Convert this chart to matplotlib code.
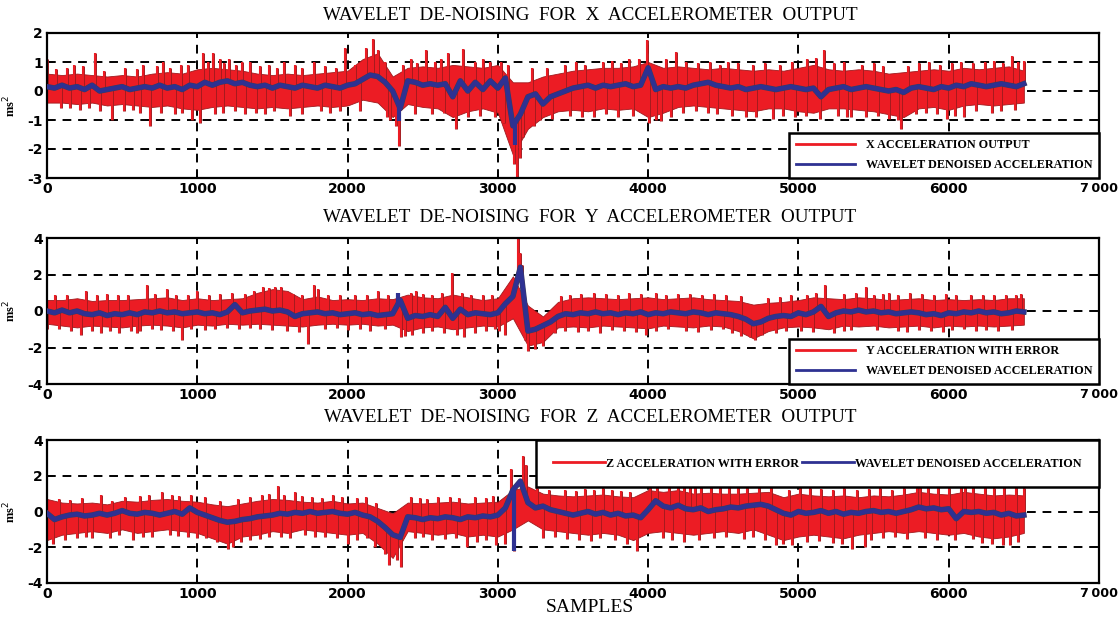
import numpy as np
import matplotlib
matplotlib.use("Agg")
import matplotlib.pyplot as plt
from matplotlib.lines import Line2D
import matplotlib.patheffects as pe

plt.rcParams['axes.unicode_minus'] = False

# ---------------- data ----------------
band_step = 100   # red band envelope sampled every 100 samples (0..6500)
blue_step = 50    # denoised signal sampled every 50 samples (0..6500)

titles = ["WAVELET  DE-NOISING  FOR  X  ACCELEROMETER  OUTPUT",
          "WAVELET  DE-NOISING  FOR  Y  ACCELEROMETER  OUTPUT",
          "WAVELET  DE-NOISING  FOR  Z  ACCELEROMETER  OUTPUT"]
red_labels = ["X ACCELERATION OUTPUT", "Y ACCELERATION WITH ERROR", "Z ACCELERATION WITH ERROR"]
blue_label = "WAVELET DENOISED ACCELERATION"
xtick_vals = [0, 1000, 2000, 3000, 4000, 5000, 6000, 7000]
xtick_labels = ["0", "1000", "2000", "3000", "4000", "5000", "6000", "7\u2009000"]

# ---- X accelerometer ----
x_hi = [0.6, 0.55, 0.6, 0.55, 0.5, 0.55, 0.5, 0.6, 0.65, 0.6,
        0.75, 0.8, 0.75, 0.7, 0.6, 0.55, 0.6, 0.55, 0.6, 0.65,
        0.7, 1.1, 1.3, 0.5, 0.8, 0.85, 0.8, 0.9, 0.85, 0.8,
        0.9, 0.3, 0.3, 0.5, 0.6, 0.7, 0.75, 0.8, 0.8, 0.85,
        1.0, 0.8, 0.85, 0.8, 0.75, 0.8, 0.75, 0.7, 0.75, 0.7,
        0.8, 0.9, 0.75, 0.7, 0.75, 0.7, 0.6, 0.65, 0.7, 0.75,
        0.7, 0.8, 0.75, 0.8, 0.85, 0.7]
x_lo = [-0.4, -0.4, -0.45, -0.4, -0.5, -0.45, -0.5, -0.55, -0.5, -0.6,
        -0.65, -0.55, -0.5, -0.55, -0.6, -0.55, -0.6, -0.55, -0.5, -0.55,
        -0.5, -0.3, -0.4, -0.9, -0.45, -0.55, -0.6, -0.9, -0.7, -0.6,
        -0.75, -2.2, -1.3, -0.9, -0.7, -0.65, -0.7, -0.6, -0.65, -0.6,
        -0.9, -0.75, -0.55, -0.5, -0.55, -0.6, -0.65, -0.7, -0.6, -0.6,
        -0.7, -0.75, -0.6, -0.6, -0.65, -0.7, -0.8, -0.9, -0.6, -0.55,
        -0.65, -0.5, -0.45, -0.5, -0.45, -0.4]
x_spikes = [(0, 1.1), (320, 1.3), (435, -1.0), (686, -1.2), (775, 1.0), (890, 0.9), (965, -1.0),
            (1020, -1.1), (1040, 1.3), (1105, 1.3), (1210, 1.1), (1350, 1.0), (1580, 1.0),
            (1775, 1.0), (1980, 1.5), (2120, 1.5), (2167, 1.8), (2200, 1.4), (2320, -1.2),
            (2340, -1.9), (2370, 0.9), (2525, 1.4), (2670, 1.3), (2720, -1.3), (2765, 1.45),
            (2950, 1.0), (3070, 0.9), (3110, -2.5), (3130, -3.0), (3150, -2.3), (3170, -1.6),
            (3280, -1.0), (3640, -0.9), (3870, 1.1), (3995, 1.75), (4005, -1.1), (4055, -1.0),
            (4085, -1.05), (4185, 1.35), (4530, 1.0), (4830, -0.95), (5120, 1.15), (5145, -0.95),
            (5170, 1.4), (5350, -0.9), (5660, -1.0), (5680, -1.3), (5990, -0.95), (6100, -0.9),
            (6240, 1.0), (6420, 1.2), (6500, 1.05),
            (60, 0.75), (130, 0.8), (180, 0.9), (240, 0.85), (380, 0.7), (520, 0.8), (600, 0.75),
            (640, 0.9), (730, 0.85), (820, 0.8), (940, 0.9), (1070, 1.0), (1150, 1.1), (1180, 0.95),
            (1260, 0.9), (1300, 1.0), (1420, 0.85), (1480, 0.9), (1530, 0.8), (1650, 0.9),
            (1700, 0.8), (1850, 0.85), (1920, 0.8), (90, -0.6), (150, -0.6), (220, -0.65),
            (280, -0.6), (350, -0.7), (510, -0.7), (570, -0.65), (620, -0.75), (760, -0.75),
            (850, -0.8), (900, -0.75), (1120, -0.8), (1170, -0.75), (1250, -0.7), (1320, -0.8),
            (1390, -0.75), (1450, -0.8), (1510, -0.7), (1620, -0.85), (1700, -0.8), (1820, -0.7),
            (1880, -0.75), (1950, -0.7), (2050, 0.9), (2250, 1.0), (2420, 1.1), (2460, 0.95),
            (2580, 1.0), (2620, 1.1), (2850, 1.0), (2900, 1.1), (3020, 1.0), (3230, 0.8),
            (3330, 0.8), (2080, -0.7), (2260, -0.9), (2280, -1.0), (2450, -0.8), (2560, -0.8),
            (2640, -0.75), (2800, -0.9), (2880, -0.85), (2980, -0.9), (3040, -1.1), (3240, -1.2),
            (3360, -0.95), (3450, 0.9), (3520, 1.0), (3580, 0.9), (3700, 1.0), (3760, 1.05),
            (3820, 0.95), (3940, 1.1), (4120, 1.1), (4250, 1.0), (4330, 0.95), (4410, 1.0),
            (4480, 0.9), (4600, 0.95), (4700, 0.9), (4780, 0.95), (4880, 0.9), (4960, 1.0),
            (5060, 1.1), (5240, 0.95), (5300, 1.0), (5420, 0.9), (5500, 0.95), (5560, 0.85),
            (5730, 0.85), (5800, 0.95), (5870, 1.0), (5940, 0.9), (6020, 0.95), (6080, 1.0),
            (6160, 0.95), (6300, 1.05), (6360, 0.95), (6460, 1.0), (3480, -0.85), (3560, -0.9),
            (3720, -0.8), (3800, -0.9), (3900, -0.85), (4150, -0.9), (4230, -0.75), (4320, -0.7),
            (4400, -0.75), (4460, -0.8), (4560, -0.85), (4650, -0.9), (4720, -0.9), (4900, -0.85),
            (4980, -0.9), (5050, -0.85), (5260, -0.85), (5320, -0.9), (5450, -0.9), (5530, -0.85),
            (5600, -0.95), (5780, -0.8), (5850, -0.75), (5920, -0.8), (6040, -0.85), (6180, -0.7),
            (6290, -0.75), (6350, -0.7), (6440, -0.65)]
x_blue = [0.15, 0.1, 0.2, 0.1, 0.15, 0.05, 0.2, 0.0, 0.05, 0.1,
          0.15, 0.05, 0.1, 0.15, 0.1, 0.2, 0.1, 0.15, 0.05, 0.2,
          0.15, 0.3, 0.2, 0.3, 0.35, 0.25, 0.3, 0.2, 0.15, 0.2,
          0.1, 0.2, 0.15, 0.1, 0.2, 0.15, 0.1, 0.2, 0.15, 0.1,
          0.2, 0.25, 0.4, 0.55, 0.5, 0.3, 0.0, -0.6, 0.35, 0.3,
          0.2, 0.25, 0.2, 0.25, -0.2, 0.35, 0.0, 0.3, 0.05, 0.35,
          0.1, 0.45, -1.2, -0.8, -0.2, -0.1, -0.45, -0.2, -0.1, 0.0,
          0.1, 0.15, 0.2, 0.1, 0.2, 0.15, 0.2, 0.25, 0.15, 0.2,
          0.8, 0.05, 0.15, 0.1, 0.15, 0.1, 0.2, 0.25, 0.3, 0.2,
          0.15, 0.1, 0.15, 0.05, 0.1, 0.15, 0.1, 0.05, 0.1, 0.15,
          0.1, 0.05, 0.1, -0.2, 0.05, 0.1, 0.15, 0.05, 0.1, 0.15,
          0.1, 0.05, 0.0, 0.05, -0.05, 0.1, 0.15, 0.1, 0.05, 0.15,
          0.1, 0.2, 0.15, 0.25, 0.2, 0.15, 0.2, 0.25, 0.2, 0.15,
          0.25]
x_blue_spikes = [(2340, -1.05), (3115, -1.85)]

# ---- Y accelerometer ----
y_hi = [0.6, 0.6, 0.7, 0.55, 0.6, 0.6, 0.65, 0.7, 0.75, 0.6,
        0.7, 0.6, 0.65, 0.7, 1.0, 1.2, 1.1, 0.65, 0.8, 0.6,
        0.65, 0.6, 0.7, 0.65, 0.9, 0.75, 0.7, 0.9, 0.75, 0.6,
        0.7, 1.9, 0.3, -0.3, 0.5, 0.7, 0.75, 0.7, 0.65, 0.7,
        0.75, 0.65, 0.7, 0.75, 0.65, 0.6, 0.55, 0.35, 0.45, 0.5,
        0.6, 0.75, 0.7, 0.65, 0.75, 0.7, 0.6, 0.65, 0.7, 0.6,
        0.65, 0.6, 0.65, 0.6, 0.7, 0.7]
y_lo = [-0.7, -0.8, -0.9, -0.8, -0.85, -0.9, -0.8, -0.75, -0.8, -0.9,
        -0.75, -0.8, -0.7, -0.75, -0.7, -0.75, -0.8, -0.85, -0.75, -0.7,
        -0.75, -0.7, -0.8, -0.75, -1.1, -0.9, -0.85, -1.0, -0.9, -0.8,
        -0.85, -0.4, -1.9, -1.7, -0.9, -0.85, -0.9, -0.8, -0.85, -0.9,
        -0.95, -0.8, -0.85, -0.9, -0.8, -0.85, -1.1, -1.5, -1.1, -0.9,
        -0.85, -0.9, -1.0, -0.8, -0.85, -0.8, -0.9, -0.85, -0.8, -0.9,
        -0.8, -0.85, -0.8, -0.85, -0.8, -0.75]
y_spikes = [(0, -1.0), (226, -1.3), (262, 1.1), (560, -1.1), (600, -1.2), (620, -1.1), (667, 1.4),
            (798, 1.2), (900, -1.6), (1000, 1.1), (1440, 1.3), (1560, 1.3), (1738, -1.8),
            (1774, 1.4), (1800, 1.2), (2202, 1.1), (2338, 1.0), (2357, -1.4), (2381, -1.35),
            (2452, 1.1), (2698, 2.1), (2774, -1.4), (2850, -1.2), (3010, -1.1), (3090, 1.2),
            (3110, 1.8), (3131, 4.0), (3145, 3.2), (3160, 2.5), (3180, -1.6), (3200, -2.2),
            (3250, -2.1), (3300, -1.9), (3988, -1.3), (4200, 0.95), (4680, -1.4), (4714, -1.6),
            (5178, 1.4), (5240, -1.2), (5452, 1.3), (5600, 1.0), (6100, -1.0), (6450, 0.9),
            (50, 0.85), (130, 0.9), (330, 0.85), (400, 0.95), (470, 0.9), (540, 0.85), (720, 0.95),
            (860, 0.9), (940, 0.85), (1080, 0.9), (1150, 0.95), (1230, 1.0), (1320, 0.95),
            (1380, 1.1), (1480, 1.25), (1520, 1.3), (1640, 0.95), (1700, 0.9), (1870, 0.9),
            (1950, 0.85), (2050, 0.9), (2130, 0.85), (2270, 0.9), (2420, 1.0), (2500, 0.95),
            (2560, 0.9), (2630, 1.0), (2760, 1.0), (2820, 0.9), (2900, 0.85), (2960, 0.9),
            (3420, 0.8), (3480, 0.9), (3550, 0.95), (3640, 1.0), (3720, 0.95), (3800, 0.9),
            (3870, 1.0), (3950, 0.95), (4050, 1.0), (4120, 0.9), (4280, 0.95), (4360, 0.9),
            (4440, 0.95), (4520, 0.85), (4620, 0.8), (4800, 0.7), (4880, 0.75), (4950, 0.85),
            (5060, 0.9), (5120, 1.0), (5300, 0.95), (5380, 1.0), (5500, 0.9), (5560, 0.95),
            (5660, 0.9), (5740, 1.0), (5820, 0.95), (5900, 0.9), (5980, 0.95), (6050, 0.9),
            (6150, 0.85), (6230, 0.9), (6300, 0.85), (6380, 0.9), (6480, 0.95),
            (80, -1.0), (160, -1.1), (300, -1.1), (360, -1.2), (420, -1.1), (480, -1.2),
            (700, -1.0), (760, -1.05), (840, -1.1), (960, -1.0), (1050, -1.05), (1120, -1.0),
            (1200, -0.95), (1280, -1.0), (1350, -0.95), (1420, -1.0), (1500, -1.05), (1600, -1.1),
            (1680, -1.15), (1850, -1.0), (1930, -0.95), (2000, -1.05), (2080, -1.0), (2150, -1.1),
            (2250, -1.0), (2430, -1.3), (2500, -1.2), (2560, -1.1), (2640, -1.2), (2730, -1.3),
            (2920, -1.1), (2980, -1.0), (3050, -1.3), (3380, -1.2), (3450, -1.1), (3530, -1.15),
            (3600, -1.1), (3680, -1.2), (3760, -1.05), (3840, -1.1), (3920, -1.15), (4050, -1.1),
            (4130, -1.0), (4250, -1.1), (4330, -1.15), (4420, -1.05), (4500, -1.0), (4560, -1.2),
            (4620, -1.35), (4760, -1.3), (4850, -1.2), (4920, -1.1), (5020, -1.1), (5100, -1.15),
            (5300, -1.1), (5350, -1.05), (5520, -1.05), (5660, -1.1), (5720, -1.15), (5800, -1.05),
            (5880, -1.1), (5960, -1.15), (6020, -1.05), (6180, -1.1), (6250, -1.05), (6330, -1.1),
            (6420, -1.05)]
y_blue = [0.0, -0.1, 0.05, -0.1, 0.0, -0.15, -0.2, -0.1, -0.25, -0.15,
          -0.2, -0.1, -0.2, -0.05, -0.1, 0.0, -0.1, -0.05, -0.15, -0.1,
          -0.05, -0.15, -0.1, -0.2, -0.05, 0.35, -0.1, 0.0, 0.05, 0.1,
          0.0, 0.05, -0.05, -0.3, -0.15, -0.1, -0.05, -0.15, -0.1, -0.2,
          -0.15, -0.1, -0.2, -0.15, -0.25, -0.2, -0.15, 0.6, -0.4, -0.25,
          -0.3, -0.2, -0.3, 0.2, -0.4, 0.1, -0.2, -0.1, -0.15, -0.2,
          -0.1, 0.4, 0.8, 2.4, -1.1, -1.0, -0.8, -0.6, -0.3, -0.15,
          -0.2, -0.1, -0.15, -0.05, -0.15, -0.1, -0.2, -0.1, -0.15, -0.05,
          -0.2, -0.1, -0.15, -0.05, -0.1, -0.15, -0.05, -0.1, -0.2, -0.1,
          -0.15, -0.2, -0.3, -0.45, -0.7, -0.6, -0.4, -0.3, -0.25, -0.3,
          -0.1, -0.2, -0.05, 0.25, -0.3, -0.1, 0.0, -0.05, 0.05, -0.05,
          0.0, -0.1, -0.05, -0.15, -0.1, -0.05, -0.1, -0.2, -0.15, -0.25,
          -0.1, -0.15, -0.05, -0.1, 0.0, -0.1, -0.05, -0.15, -0.1, 0.0,
          -0.05]
y_blue_spikes = [(2338, 1.0)]

# ---- Z accelerometer ----
z_hi = [0.7, 0.5, 0.45, 0.5, 0.4, 0.6, 0.55, 0.65, 0.7, 0.6,
        0.55, 0.4, 0.3, 0.45, 0.6, 0.7, 0.65, 0.55, 0.5, 0.6,
        0.45, 0.5, 0.2, -0.1, 0.5, 0.45, 0.5, 0.55, 0.45, 0.5,
        0.55, 1.2, 1.4, 1.0, 0.9, 0.85, 0.9, 0.95, 0.85, 0.8,
        1.2, 1.1, 1.2, 1.0, 1.05, 1.0, 1.0, 1.05, 1.1, 0.8,
        1.0, 0.9, 0.85, 0.9, 0.8, 0.9, 0.85, 0.95, 1.1, 1.0,
        0.95, 1.1, 1.0, 0.9, 0.95, 0.9]
z_lo = [-1.6, -1.3, -1.2, -1.1, -1.2, -1.0, -1.2, -1.1, -1.0, -1.1,
        -1.2, -1.5, -1.8, -1.4, -1.3, -1.1, -1.2, -1.0, -1.1, -1.2,
        -1.3, -1.2, -1.8, -2.6, -1.1, -1.2, -1.3, -1.2, -1.4, -1.3,
        -1.4, -1.0, -0.5, -1.0, -1.1, -1.2, -1.3, -1.2, -1.3, -1.6,
        -1.2, -1.1, -1.2, -1.3, -1.2, -1.1, -1.2, -1.0, -1.3, -1.6,
        -1.4, -1.3, -1.4, -1.5, -1.3, -1.2, -1.1, -1.2, -1.1, -1.2,
        -1.3, -1.2, -1.4, -1.5, -1.4, -1.2]
z_spikes = [(40, -1.8), (300, -1.5), (360, 0.9), (571, -1.6), (762, 1.1), (1000, -1.5), (1202, -2.1),
            (1240, -2.0), (1536, 1.4), (1650, 1.1), (1900, 0.9), (2000, -1.8), (2250, -2.4),
            (2274, -3.0), (2330, -2.7), (2357, -3.1), (2600, 0.8), (2798, -2.0), (2988, -1.9),
            (3088, 2.4), (3107, -2.2), (3167, 3.1), (3185, 2.6), (3700, 1.3), (3929, -2.2),
            (4010, 2.0), (4060, 1.8), (4200, 1.8), (4280, 1.8), (4310, 1.9), (4600, 1.6),
            (4900, -1.8), (5010, 1.9), (5357, -2.1), (5440, -2.0), (5790, 1.9), (5810, 1.7),
            (6080, 1.8), (6110, 1.7), (6405, -1.9), (6450, 1.6), (6500, 1.3),
            (80, 0.7), (150, 0.65), (230, 0.75), (430, 0.6), (520, 0.8), (620, 0.85), (680, 0.9),
            (830, 0.9), (880, 0.85), (960, 0.9), (1050, 0.8), (1150, 0.6), (1270, 0.7), (1350, 0.8),
            (1430, 0.9), (1480, 1.0), (1580, 0.95), (1700, 0.85), (1760, 0.8), (1830, 0.75),
            (1960, 0.8), (2060, 0.75), (2120, 0.8), (2190, 0.5), (2420, 0.8), (2480, 0.75),
            (2530, 0.7), (2680, 0.8), (2740, 0.75), (2850, 0.8), (2920, 0.75), (2970, 0.85),
            (3260, 1.3), (3340, 1.2), (3450, 1.2), (3520, 1.15), (3580, 1.25), (3640, 1.2),
            (3760, 1.2), (3820, 1.15), (3880, 1.1), (4140, 1.6), (4240, 1.5), (4350, 1.4),
            (4420, 1.5), (4480, 1.4), (4540, 1.35), (4660, 1.4), (4740, 1.45), (4820, 1.5),
            (4940, 1.2), (5080, 1.3), (5150, 1.25), (5230, 1.2), (5300, 1.3), (5390, 1.2),
            (5470, 1.25), (5540, 1.3), (5620, 1.2), (5700, 1.3), (5860, 1.5), (5930, 1.4),
            (6000, 1.3), (6160, 1.5), (6240, 1.4), (6300, 1.3), (6370, 1.35),
            (120, -1.6), (200, -1.5), (260, -1.4), (420, -1.5), (480, -1.3), (640, -1.45),
            (700, -1.4), (820, -1.3), (870, -1.35), (940, -1.4), (1060, -1.5), (1130, -1.7),
            (1290, -1.7), (1350, -1.6), (1420, -1.55), (1480, -1.4), (1560, -1.45), (1620, -1.5),
            (1720, -1.3), (1780, -1.4), (1850, -1.45), (1930, -1.5), (2060, -1.6), (2130, -1.5),
            (2180, -2.0), (2450, -1.5), (2500, -1.45), (2560, -1.6), (2650, -1.55), (2720, -1.5),
            (2860, -1.7), (2920, -1.6), (3050, -1.8), (3300, -1.5), (3380, -1.4), (3460, -1.55),
            (3540, -1.6), (3620, -1.65), (3680, -1.5), (3780, -1.6), (3860, -1.8), (4100, -1.5),
            (4160, -1.6), (4240, -1.7), (4340, -1.6), (4440, -1.5), (4520, -1.45), (4640, -1.55),
            (4700, -1.4), (4780, -1.6), (4850, -1.9), (4960, -1.85), (5060, -1.7), (5140, -1.65),
            (5230, -1.75), (5290, -1.8), (5480, -1.6), (5560, -1.5), (5640, -1.45), (5720, -1.55),
            (5840, -1.5), (5920, -1.6), (6040, -1.6), (6160, -1.55), (6220, -1.75), (6290, -1.8),
            (6360, -1.85), (6460, -1.7)]
z_blue = [-0.1, -0.45, -0.3, -0.2, -0.15, -0.25, -0.2, -0.1, -0.2, -0.1,
          0.05, -0.1, -0.15, -0.05, -0.1, -0.2, -0.1, 0.0, -0.15, 0.2,
          -0.05, -0.2, -0.35, -0.5, -0.6, -0.55, -0.45, -0.4, -0.3, -0.25,
          -0.2, -0.1, -0.15, -0.05, -0.1, 0.0, -0.1, -0.05, 0.0, -0.1,
          -0.15, -0.05, -0.2, -0.3, -0.55, -0.9, -1.3, -1.45, -0.3, -0.35,
          -0.45, -0.35, -0.4, -0.3, -0.35, -0.45, -0.3, -0.35, -0.25, -0.3,
          -0.2, 0.2, 1.2, 1.7, 0.5, 0.2, 0.3, 0.1, 0.0, -0.1,
          -0.2, -0.1, 0.0, -0.15, -0.05, -0.2, -0.1, -0.25, -0.2, -0.35,
          0.1, 0.6, 0.3, 0.2, 0.35, 0.15, 0.1, 0.2, 0.0, 0.1,
          0.15, 0.25, 0.2, 0.3, 0.35, 0.4, 0.3, 0.1, -0.1, -0.2,
          0.0, -0.1, -0.05, 0.05, -0.1, 0.0, -0.15, -0.05, -0.1, 0.0,
          0.05, -0.05, 0.0, -0.1, 0.0, 0.1, 0.25, 0.15, 0.2, 0.1,
          0.15, -0.4, 0.0, -0.05, 0.0, -0.1, -0.05, -0.2, -0.1, -0.25,
          -0.2]
z_blue_spikes = [(3108, -2.2)]

# ---------------- styling ----------------
RED = '#ec1c24'
RED_EDGE = '#a01a1e'
BLUE = '#2e3192'
SERIF = 'Liberation Serif'
TICKFONT = 'DejaVu Sans'

fig = plt.figure(figsize=(11.19, 6.18), dpi=100)
W, H = 1119.0, 618.0
left, right = 47, 1099
axes_px = [(33, 178), (238, 384), (440, 583)]
title_off = [18, 20, 22]

datasets = [
    (x_hi, x_lo, x_spikes, x_blue, x_blue_spikes, (-3, 2), [-3, -2, -1, 0, 1, 2]),
    (y_hi, y_lo, y_spikes, y_blue, y_blue_spikes, (-4, 4), [-4, -2, 0, 2, 4]),
    (z_hi, z_lo, z_spikes, z_blue, z_blue_spikes, (-4, 4), [-4, -2, 0, 2, 4]),
]

for i, ((top, bot), data) in enumerate(zip(axes_px, datasets)):
    hi, lo, spikes, blue, bspikes, ylim, yticks = data
    ax = fig.add_axes([left / W, 1 - bot / H, (right - left) / W, (bot - top) / H])
    xb = np.arange(len(hi)) * band_step
    xbl = np.arange(len(blue)) * blue_step
    sp = np.array([p for p, v in spikes], dtype=float)
    sv = np.array([v for p, v in spikes], dtype=float)
    bsp = np.array([p for p, v in bspikes], dtype=float)
    bsv = np.array([v for p, v in bspikes], dtype=float)

    ax.fill_between(xb, lo, hi, color=RED, edgecolor=RED_EDGE, linewidth=0.6, zorder=2)
    base = np.interp(sp, xbl, blue)
    ax.vlines(sp, base, sv, color=RED, linewidth=1.5, zorder=2,
              path_effects=[pe.withStroke(linewidth=2.1, foreground=RED_EDGE)])
    ax.plot(xbl, blue, color=BLUE, linewidth=3.2, zorder=3,
            path_effects=[pe.withStroke(linewidth=4.0, foreground='#3b3b5e')])
    bbase = np.interp(bsp, xbl, blue)
    ax.vlines(bsp, bbase, bsv, color=BLUE, linewidth=3.0, zorder=3)

    ax.set_xlim(0, 7000)
    ax.set_ylim(*ylim)
    ax.set_xticks(xtick_vals)
    ax.set_xticklabels(xtick_labels)
    ax.set_yticks(yticks)
    ax.set_yticklabels([str(t) for t in yticks])
    ax.set_axisbelow(True)
    ax.grid(True, color='black', linestyle=(0, (4.5, 3.5)), linewidth=1.4)
    for s in ax.spines.values():
        s.set_linewidth(1.6)
        s.set_color('black')
    ax.tick_params(direction='in', length=4, width=1.2, pad=3)
    for lab in ax.get_xticklabels() + ax.get_yticklabels():
        lab.set_fontfamily(TICKFONT)
        lab.set_fontweight('bold')
        lab.set_fontsize(10)
    ax.get_xticklabels()[-1].set_fontsize(9.2)
    ax.set_ylabel('ms$^{2}$', fontfamily=SERIF, fontweight='bold', fontsize=9)
    ax.yaxis.set_label_coords(-0.027, 0.5)

    ax.annotate(titles[i], xy=(0.516, 1.0), xycoords='axes fraction',
                xytext=(0, title_off[i] * 0.72), textcoords='offset points',
                ha='center', va='center', fontfamily=SERIF, fontsize=13.8)

    handles = [Line2D([], [], color=RED, linewidth=2), Line2D([], [], color=BLUE, linewidth=2)]
    labels = [red_labels[i], blue_label]
    prop = {'family': SERIF, 'weight': 'bold', 'size': 8.7}
    if i < 2:
        leg = ax.legend(handles, labels, loc='lower right', bbox_to_anchor=(1, 0),
                        borderaxespad=0, prop=prop, handlelength=4.9, handletextpad=0.9,
                        labelspacing=0.65, borderpad=0.55, fancybox=False, framealpha=1,
                        edgecolor='black')
    else:
        leg = ax.legend(handles, labels, loc='upper right', bbox_to_anchor=(1, 1),
                        borderaxespad=0, prop=prop, ncol=2, handlelength=4.3,
                        handletextpad=0.1, columnspacing=0.2, borderpad=1.45,
                        fancybox=False, framealpha=1, edgecolor='black')
    leg.get_frame().set_linewidth(1.8)
    leg.set_zorder(10)

fig.text(590 / W, 1 - 607 / H, 'SAMPLES', ha='center', va='center',
         fontfamily=SERIF, fontsize=14)

fig.savefig('out.png', dpi=100)
